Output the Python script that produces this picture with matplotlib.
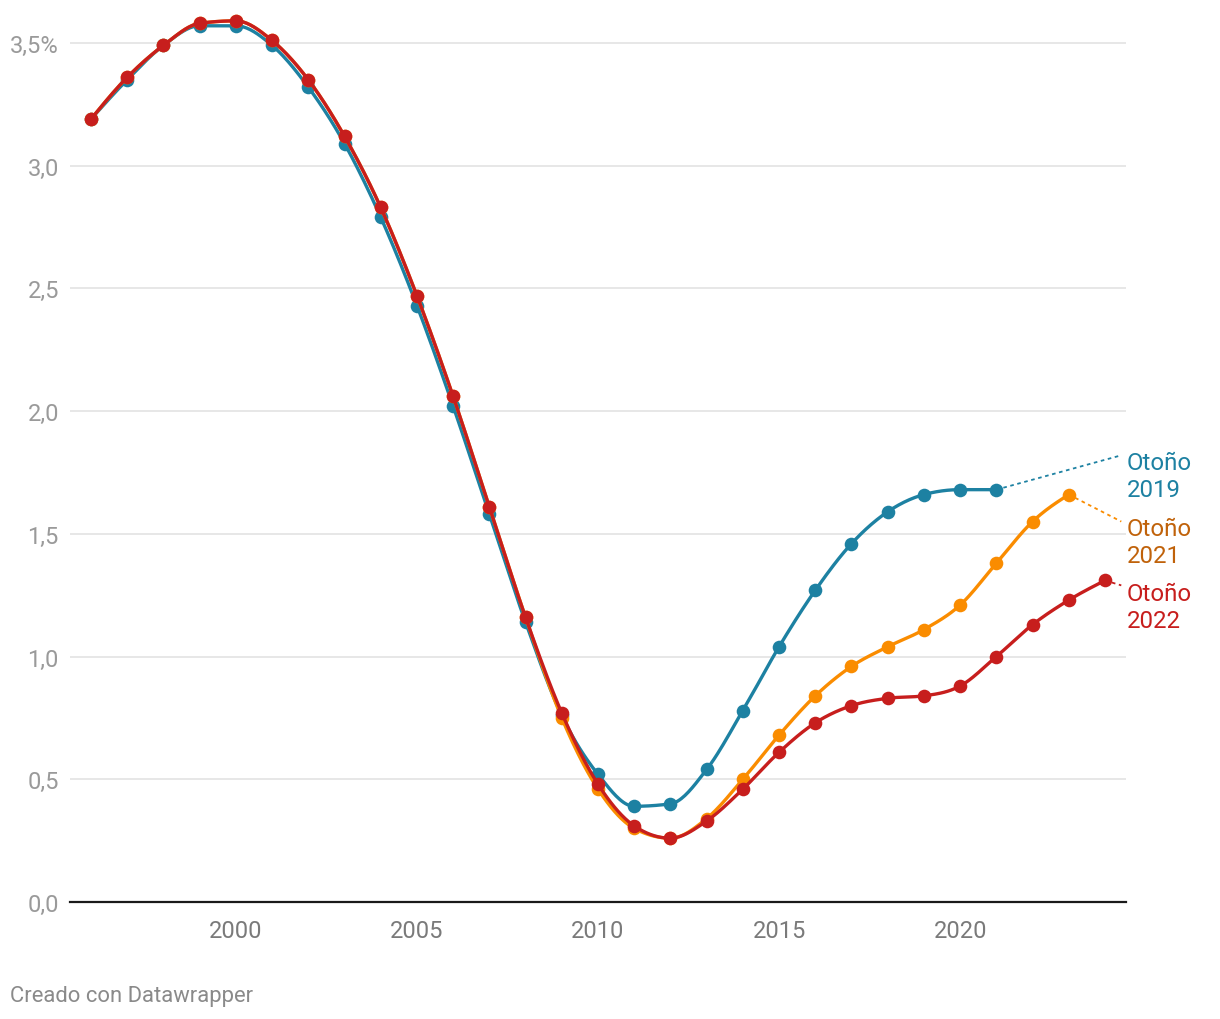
import numpy as np
import matplotlib
matplotlib.use('Agg')
import matplotlib.pyplot as plt

plt.rcParams['font.family'] = ['Roboto', 'DejaVu Sans']

# data
years_2019 = list(range(1996, 2022))
otono_2019 = [3.19, 3.35, 3.49, 3.57, 3.57, 3.49, 3.32, 3.09, 2.79, 2.43, 2.02, 1.58, 1.14,
              0.76, 0.52, 0.39, 0.40, 0.54, 0.78, 1.04, 1.27, 1.46, 1.59, 1.66, 1.68, 1.68]

years_2021 = list(range(1996, 2024))
otono_2021 = [3.19, 3.36, 3.49, 3.58, 3.59, 3.51, 3.35, 3.12, 2.83, 2.47, 2.06, 1.61, 1.16,
              0.75, 0.46, 0.30, 0.26, 0.34, 0.50, 0.68, 0.84, 0.96, 1.04, 1.11, 1.21, 1.38,
              1.55, 1.66]

years_2022 = list(range(1996, 2025))
otono_2022 = [3.19, 3.36, 3.49, 3.58, 3.59, 3.51, 3.35, 3.12, 2.83, 2.47, 2.06, 1.61, 1.16,
              0.77, 0.48, 0.31, 0.26, 0.33, 0.46, 0.61, 0.73, 0.80, 0.83, 0.84, 0.88, 1.00,
              1.13, 1.23, 1.31]

labels = ['Otoño\n2019', 'Otoño\n2021', 'Otoño\n2022']
line_colors = ['#1d81a2', '#fa8c00', '#c71e1d']
label_colors = ['#1d81a2', '#c0620a', '#c71e1d']
y_ticks = [0, 0.5, 1.0, 1.5, 2.0, 2.5, 3.0, 3.5]
y_ticklabels = ['0,0', '0,5', '1,0', '1,5', '2,0', '2,5', '3,0', '3,5%']
x_ticks = [2000, 2005, 2010, 2015, 2020]


def monotone(x, y, n=20):
    # monotone cubic interpolation (like d3.curveMonotoneX)
    x = np.asarray(x, float)
    y = np.asarray(y, float)
    h = np.diff(x)
    s = np.diff(y) / h
    t = np.zeros_like(y)
    for i in range(1, len(y) - 1):
        p = (s[i - 1] * h[i] + s[i] * h[i - 1]) / (h[i - 1] + h[i])
        t[i] = (np.sign(s[i - 1]) + np.sign(s[i])) * min(abs(s[i - 1]), abs(s[i]), 0.5 * abs(p))
    t[0] = (3 * s[0] - t[1]) / 2 if len(y) > 2 else s[0]
    t[-1] = (3 * s[-1] - t[-2]) / 2 if len(y) > 2 else s[-1]
    xs, ys = [], []
    for i in range(len(y) - 1):
        u = np.linspace(0, 1, n, endpoint=(i == len(y) - 2))
        h00 = 2 * u**3 - 3 * u**2 + 1
        h10 = u**3 - 2 * u**2 + u
        h01 = -2 * u**3 + 3 * u**2
        h11 = u**3 - u**2
        xs.append(x[i] + u * h[i])
        ys.append(h00 * y[i] + h10 * h[i] * t[i] + h01 * y[i + 1] + h11 * h[i] * t[i + 1])
    return np.concatenate(xs), np.concatenate(ys)


fig = plt.figure(figsize=(12.2, 10.2), dpi=100)
ax = fig.add_axes([70 / 1220, (1020 - 903) / 1020, (1126 - 70) / 1220, (903 - 14.5) / 1020])

series = [(years_2019, otono_2019), (years_2021, otono_2021), (years_2022, otono_2022)]
# label anchors (text centre y, connector end y)
label_pos = [(1.735, 1.82), (1.465, 1.55), (1.20, 1.29)]

for k, (xs, ys) in enumerate(series):
    sx, sy = monotone(xs, ys)
    ax.plot(sx, sy, color=line_colors[k], lw=2.4, zorder=3 + k, solid_capstyle='round')
    ax.plot(xs, ys, 'o', color=line_colors[k], ms=9.8, mec='none', zorder=3 + k)
    ty, cy = label_pos[k]
    ax.plot([xs[-1], 2024.45], [ys[-1], cy], ls=(0, (2, 2)), lw=1.3,
            color=line_colors[k], zorder=2, clip_on=False)
    ax.text(2024.6, ty, labels[k], color=label_colors[k], fontsize=17.3,
            va='center', ha='left', linespacing=1.22, clip_on=False)

ax.set_xlim(1995.42, 2024.58)
ax.set_ylim(0, 3.62)

for side in ['top', 'right', 'left']:
    ax.spines[side].set_visible(False)
ax.spines['bottom'].set_color('#1a1a1a')
ax.spines['bottom'].set_linewidth(1.6)
ax.spines['bottom'].set_zorder(10)

ax.set_yticks(y_ticks)
ax.set_yticklabels(y_ticklabels)
ax.set_xticks(x_ticks)
ax.set_xticklabels([str(v) for v in x_ticks])
ax.tick_params(axis='y', length=0, pad=8, labelsize=17, labelcolor='#9a9a9a')
ax.tick_params(axis='x', length=0, pad=12, labelsize=17, labelcolor='#7a7a7a')
ax.grid(axis='y', color='#e3e3e3', lw=1.2, zorder=0)
ax.set_axisbelow(True)

fig.text(10 / 1220, 1 - 997 / 1020, 'Creado con Datawrapper', fontsize=15.8,
         color='#8a8a8a', va='center', ha='left')

fig.savefig('out.png', dpi=100, facecolor='white')
